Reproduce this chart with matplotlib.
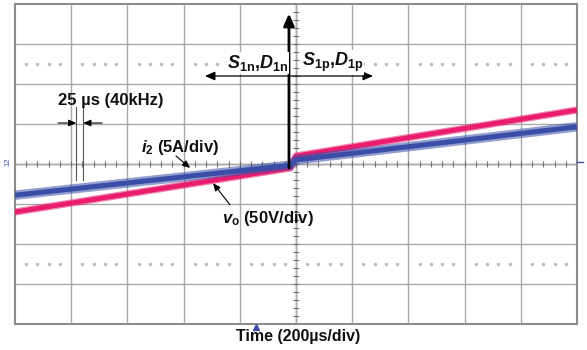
import matplotlib
matplotlib.use('Agg')
import matplotlib.pyplot as plt
import numpy as np

plt.rcParams['font.family'] = ['Liberation Sans', 'DejaVu Sans']
plt.rcParams['mathtext.fontset'] = 'custom'
plt.rcParams['mathtext.rm'] = 'Liberation Sans:bold'
plt.rcParams['mathtext.it'] = 'Liberation Sans:italic:bold'
plt.rcParams['mathtext.bf'] = 'Liberation Sans:bold'

# ---- data (time in microseconds, amplitude in divisions) ----
time_us = [-1000, -20, 0, 1000]
vo_div = [-1.20, -0.10, 0.20, 1.35]     # v_o (50 V/div)
i2_div = [-0.78, -0.03, 0.10, 0.93]     # i_2 (5 A/div)

x_div = 200          # us per division
n_xdiv = 10
n_ydiv = 8

label_time = 'Time (200µs/div)'
label_i2 = r'$i_{2}$ (5A/div)'
label_vo = r'$v_{\mathrm{o}}$ (50V/div)'
label_n = r'$S_{\mathrm{1n}}$,$D_{\mathrm{1n}}$'
label_p = r'$S_{\mathrm{1p}}$,$D_{\mathrm{1p}}$'
label_ripple = '25 µs (40kHz)'
ripple_us = 25

BLUE = '#3a4ea8'
PINK = '#ea1c6e'

fig = plt.figure(figsize=(5.87, 3.5), dpi=100)
ax = fig.add_axes([15/587, 26/350, 562/587, 320/350])
xmax = x_div * n_xdiv / 2
ymax = n_ydiv / 2
ax.set_xlim(-xmax, xmax)
ax.set_ylim(-ymax, ymax)

# graticule
ax.set_xticks(np.arange(-xmax + x_div, xmax, x_div))
ax.set_yticks(np.arange(-ymax + 1, ymax, 1))
ax.tick_params(length=0, labelbottom=False, labelleft=False)
ax.grid(True, color='#a9a9a9', lw=1.0)
for s in ax.spines.values():
    s.set_color('#8c8c8c')
    s.set_linewidth(1.5)

# center axes minor ticks
mx = np.arange(-xmax, xmax + 1, x_div / 5)
ax.plot(mx, np.zeros_like(mx), ls='none', marker='|', ms=5, mew=0.8, color='#707070', zorder=2)
my = np.arange(-ymax, ymax + 0.01, 0.2)
ax.plot(np.zeros_like(my), my, ls='none', marker='_', ms=5, mew=0.8, color='#707070', zorder=2)
ax.axhline(0, color='#8a8a8a', lw=1.0, zorder=1.5)
ax.axvline(0, color='#8a8a8a', lw=1.0, zorder=1.5)

# dotted cursor lines
dx = [k * x_div / 5 for k in range(-24, 25) if k % 5 != 0]
for yy in (2.5, -2.5):
    ax.plot(dx, [yy] * len(dx), ls='none', marker='o', ms=1.4, color='#b8b8b8', zorder=1.5)

# traces: translucent envelope (ripple/noise band) + solid core
ax.plot(time_us, vo_div, color=PINK, lw=5.2, alpha=0.55, solid_capstyle='butt', zorder=3)
ax.plot(time_us, vo_div, color=PINK, lw=3.4, solid_capstyle='butt', zorder=3.1)
ax.plot(time_us, i2_div, color=BLUE, lw=6.8, alpha=0.55, solid_capstyle='butt', zorder=4)
ax.plot(time_us, i2_div, color=BLUE, lw=3.6, solid_capstyle='butt', zorder=4.1)

# vertical transition arrow
ax.annotate('', xy=(-25, 3.76), xytext=(-25, -0.1),
            arrowprops=dict(arrowstyle='-|>,head_length=0.45,head_width=0.2',
                            lw=2.0, color='black', mutation_scale=16,
                            shrinkA=0, shrinkB=0), zorder=5)
ax.annotate('', xy=(-324, 2.2), xytext=(-25, 2.2),
            arrowprops=dict(arrowstyle='-|>,head_length=0.5,head_width=0.22',
                            lw=0.9, color='black', mutation_scale=12,
                            shrinkA=0, shrinkB=0), zorder=5)
ax.annotate('', xy=(274, 2.2), xytext=(-25, 2.2),
            arrowprops=dict(arrowstyle='-|>,head_length=0.5,head_width=0.22',
                            lw=0.9, color='black', mutation_scale=12,
                            shrinkA=0, shrinkB=0), zorder=5)

txt_kw = dict(fontsize=12, fontweight='bold', color='#111111', zorder=6)
ax.text(-28, 2.53, label_n, ha='right', va='center', fontsize=13, fontweight='bold',
        color='#111111', zorder=6,
        bbox=dict(facecolor='white', edgecolor='none', pad=0.5))
ax.text(21, 2.53, label_p, ha='left', va='center', fontsize=13, fontweight='bold',
        color='#111111', zorder=6,
        bbox=dict(facecolor='white', edgecolor='none', pad=0.5))

# 25 us ripple marker
r0 = -782
r1 = r0 + ripple_us
for xx in (r0, r1):
    ax.plot([xx, xx], [1.43, -0.4], color='#555555', lw=0.8, zorder=4.5)
ax.annotate('', xy=(r0, 1.025), xytext=(-847, 1.025),
            arrowprops=dict(arrowstyle='-|>,head_length=0.5,head_width=0.22',
                            lw=0.8, color='black', mutation_scale=9,
                            shrinkA=0, shrinkB=0), zorder=5)
ax.annotate('', xy=(r1, 1.025), xytext=(-690, 1.025),
            arrowprops=dict(arrowstyle='-|>,head_length=0.5,head_width=0.22',
                            lw=0.8, color='black', mutation_scale=9,
                            shrinkA=0, shrinkB=0), zorder=5)
ax.text(-847, 1.6, label_ripple, ha='left', va='center', **txt_kw)

# trace labels
ax.text(-552, 0.42, label_i2, ha='left', va='center', **txt_kw)
ax.annotate('', xy=(-377, -0.1), xytext=(-427, 0.2),
            arrowprops=dict(arrowstyle='-|>,head_length=0.5,head_width=0.22',
                            lw=0.8, color='black', mutation_scale=9,
                            shrinkA=0, shrinkB=0), zorder=5)
ax.text(-263, -1.35, label_vo, ha='left', va='center', **txt_kw)
ax.annotate('', xy=(-295, -0.48), xytext=(-235, -1.02),
            arrowprops=dict(arrowstyle='-|>,head_length=0.5,head_width=0.22',
                            lw=0.8, color='black', mutation_scale=9,
                            shrinkA=0, shrinkB=0), zorder=5)

# scope markers
ax.plot([-142], [-4.08], marker='^', ms=4, color=BLUE, clip_on=False, zorder=6)
ax.plot([1000, 1022], [0.05, 0.05], color=BLUE, lw=1.0, clip_on=False, zorder=6)
fig.text(8/587, 1 - 162/350, '12', rotation=90, fontsize=5.5, color=BLUE,
         ha='center', va='center')

fig.text(298/587, 1 - 337/350, label_time, ha='center', va='center',
         fontsize=11.5, fontweight='bold', color='#111111')

fig.savefig('out.png', dpi=100)
